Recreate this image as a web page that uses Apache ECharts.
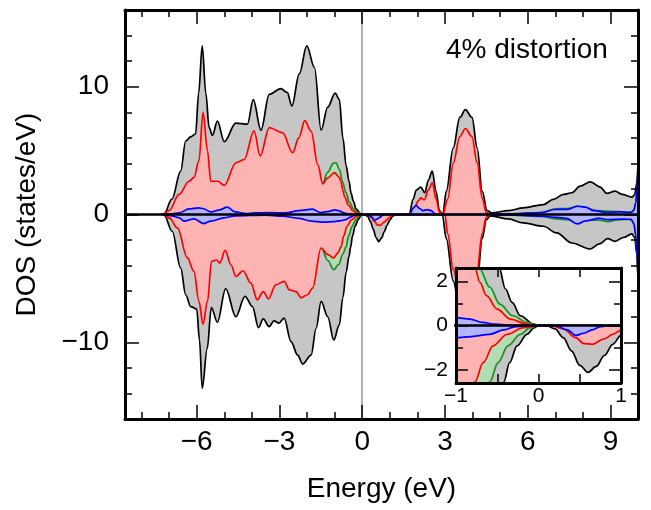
<!DOCTYPE html>
<html><head><meta charset="utf-8">
<script src="https://cdn.jsdelivr.net/npm/echarts@6/dist/echarts.min.js"></script>
<style>html,body{margin:0;padding:0;background:#fff}#c{width:651px;height:510px}</style>
</head><body><div id="c"></div><script>
// ---- data: [energy (eV), DOS (states/eV)] ----
const totalUp = [[-7.3,0],[-7.18,0.05],[-6.9,1.2],[-6.58,3.4],[-6.4,5.75],[-6.22,6.07],[-6.04,6.3],[-5.93,9.5],[-5.8,13.2],[-5.67,9.5],[-5.55,6.8],[-5.43,6.2],[-5.25,7.3],[-5.0,5.7],[-4.58,7.15],[-4.16,7.07],[-3.95,8.98],[-3.67,6.6],[-3.37,9.4],[-2.95,9.85],[-2.72,9.55],[-2.55,8.5],[-2.28,11.0],[-2.01,13.2],[-1.73,11.5],[-1.49,6.6],[-1.25,8.4],[-0.98,9.5],[-0.83,9.0],[-0.7,6.0],[-0.58,3.8],[-0.48,2.64],[-0.4,1.65],[-0.32,1.05],[-0.22,0.44],[-0.06,0.06],[0,0],[1.7,0],[1.85,1.2],[1.96,1.9],[2.12,2.14],[2.27,1.7],[2.4,2.7],[2.54,3.4],[2.68,1.8],[2.8,0.3],[2.92,0],[3.05,1.83],[3.3,5.2],[3.54,7.6],[3.74,8.2],[3.98,7.6],[4.17,5.2],[4.35,1.83],[4.53,0.3],[4.7,0.13],[5.3,0.3],[5.84,0.52],[6.57,0.78],[6.93,1.18],[7.3,1.57],[7.6,1.7],[7.9,2.22],[8.27,2.56],[8.63,2.14],[8.87,1.65],[9.17,1.83],[9.42,1.57],[9.78,1.36],[9.88,1.55],[9.95,2.4],[10,3.9]];
const totalDn = [[-7.3,0],[-7.18,-0.05],[-6.89,-1.31],[-6.58,-4.19],[-6.4,-6.28],[-6.22,-7.2],[-6.0,-7.4],[-5.9,-9.8],[-5.8,-13.6],[-5.62,-10.5],[-5.47,-7.28],[-5.25,-8.43],[-4.95,-5.8],[-4.58,-8.0],[-4.25,-6.4],[-3.98,-7.2],[-3.76,-8.85],[-3.59,-8.17],[-3.37,-8.77],[-3.2,-8.33],[-3.02,-8.5],[-2.83,-8.1],[-2.58,-9.95],[-2.34,-11.0],[-2.16,-11.7],[-1.85,-11.0],[-1.67,-8.9],[-1.49,-6.8],[-1.25,-8.0],[-1.03,-9.82],[-0.83,-8.64],[-0.7,-6.5],[-0.58,-4.5],[-0.48,-3.3],[-0.42,-2.55],[-0.35,-1.68],[-0.26,-0.92],[-0.14,-0.4],[-0.05,-0.1],[0,0],[0.1,0],[0.2,-0.15],[0.3,-0.55],[0.4,-1.15],[0.5,-1.8],[0.6,-2.12],[0.7,-1.85],[0.8,-1.35],[0.9,-0.85],[1.0,-0.45],[1.1,-0.15],[1.2,0],[2.9,0],[3.05,-1.9],[3.3,-5.2],[3.54,-7.5],[3.74,-8.0],[3.98,-7.5],[4.17,-5.2],[4.35,-1.9],[4.5,-0.4],[4.65,-0.1],[5.3,-0.35],[5.84,-0.66],[6.57,-0.92],[7.05,-1.44],[7.6,-2.23],[8.27,-2.7],[8.6,-2.3],[8.9,-1.89],[9.17,-2.1],[9.47,-1.8],[9.78,-1.52],[9.88,-1.8],[9.95,-3.0],[10,-5.1]];
const redUp = [[-7.2,0],[-7.0,0.3],[-6.64,1.57],[-6.28,2.6],[-6.1,2.9],[-5.92,4.2],[-5.77,8.0],[-5.61,5.0],[-5.49,2.6],[-5.23,2.6],[-5.0,2.28],[-4.58,4.05],[-4.28,4.3],[-3.92,6.55],[-3.7,4.58],[-3.37,6.8],[-2.89,6.4],[-2.52,4.84],[-2.3,6.0],[-2.08,7.35],[-1.85,6.5],[-1.61,3.9],[-1.43,2.4],[-1.25,2.87],[-1.0,3.27],[-0.85,2.95],[-0.77,2.6],[-0.71,1.95],[-0.63,1.35],[-0.5,0.74],[-0.34,0.29],[-0.14,0.06],[0,0],[1.75,0],[1.9,0.6],[2.05,1.1],[2.12,1.3],[2.25,1.15],[2.4,1.9],[2.54,2.48],[2.68,1.2],[2.8,0.2],[2.92,0],[3.1,1.2],[3.3,4.0],[3.54,6.1],[3.74,6.73],[3.98,6.1],[4.17,4.0],[4.35,1.3],[4.5,0.15],[4.65,0],[10,0]];
const redDn = [[-7.2,0],[-7.0,-0.25],[-6.7,-1.05],[-6.34,-3.4],[-6.1,-4.45],[-5.92,-6.8],[-5.77,-8.6],[-5.61,-6.8],[-5.46,-3.67],[-5.29,-3.56],[-5.16,-3.8],[-4.97,-2.8],[-4.76,-3.93],[-4.58,-4.85],[-4.32,-4.4],[-4.04,-5.37],[-3.8,-6.68],[-3.59,-6.03],[-3.4,-6.6],[-3.13,-5.5],[-2.83,-5.24],[-2.64,-5.9],[-2.4,-6.03],[-2.22,-6.5],[-1.98,-6.28],[-1.8,-5.76],[-1.49,-2.62],[-1.25,-3.14],[-1.03,-3.4],[-0.88,-3.0],[-0.77,-2.55],[-0.67,-1.68],[-0.55,-0.92],[-0.38,-0.4],[-0.18,-0.1],[0,0],[0.15,0],[0.3,-0.15],[0.45,-0.55],[0.55,-0.82],[0.65,-0.85],[0.8,-0.6],[0.9,-0.4],[1.0,-0.22],[1.1,-0.05],[1.2,0],[3.0,0],[3.1,-1.5],[3.3,-4.3],[3.54,-6.3],[3.74,-6.8],[3.98,-6.3],[4.17,-4.3],[4.35,-1.5],[4.5,-0.2],[4.6,0],[10,0]];
const greenUp = [[-7.2,0],[-6.5,0.7],[-5.8,1.5],[-4.0,1.5],[-2.5,1.5],[-1.7,2.0],[-1.45,2.35],[-1.25,3.3],[-1.05,4.0],[-0.95,4.05],[-0.82,3.5],[-0.72,2.6],[-0.59,1.73],[-0.47,0.97],[-0.31,0.44],[-0.14,0.14],[0,0],[4.6,0],[5.5,0.05],[6.5,0.15],[7.0,0.45],[7.45,0.47],[7.8,0.6],[8.1,0.52],[8.5,0.3],[8.9,0.26],[9.3,0.22],[9.75,0.17],[9.85,0.35],[9.92,0.9],[9.97,2.0],[10,3.7]];
const greenDn = [[-7.2,0],[-6.5,-0.7],[-5.8,-1.5],[-4.0,-1.5],[-2.5,-1.5],[-1.7,-2.1],[-1.49,-2.55],[-1.25,-3.6],[-1.03,-4.32],[-0.85,-3.9],[-0.7,-3.1],[-0.59,-2.55],[-0.49,-1.68],[-0.37,-0.92],[-0.22,-0.4],[-0.1,-0.1],[0,0],[4.6,0],[5.5,-0.05],[6.5,-0.15],[7.05,-0.35],[7.4,-0.4],[7.8,-0.55],[8.1,-0.45],[8.6,-0.45],[8.9,-0.55],[9.3,-0.4],[9.75,-0.38],[9.85,-0.7],[9.92,-1.6],[9.97,-3.2],[10,-5.0]];
const blueUp = [[-7.2,0],[-6.9,0.05],[-6.64,0.13],[-6.28,0.44],[-5.93,0.52],[-5.75,0.45],[-5.49,0.2],[-5.2,0.35],[-4.89,0.57],[-4.6,0.2],[-4.2,0.08],[-3.9,0.12],[-3.37,0.15],[-2.8,0.12],[-2.3,0.3],[-1.8,0.42],[-1.5,0.15],[-1.2,0.25],[-1.0,0.36],[-0.83,0.29],[-0.68,0.14],[-0.53,0.06],[-0.3,0.01],[0,0],[1.72,0],[1.85,0.5],[1.96,0.7],[2.1,0.45],[2.2,0.3],[2.35,0.38],[2.5,0.3],[2.65,0.05],[2.75,0],[4.5,0],[5.5,0.05],[6.5,0.15],[7.0,0.39],[7.45,0.4],[7.8,0.65],[8.1,0.57],[8.4,0.3],[8.9,0.16],[9.3,0.2],[9.75,0.16],[9.85,0.35],[9.92,0.9],[9.97,2.0],[10,3.7]];
const blueDn = [[-7.2,0],[-6.9,-0.1],[-6.64,-0.26],[-6.46,-0.52],[-6.1,-0.34],[-5.74,-0.71],[-5.49,-0.52],[-5.0,-0.26],[-4.6,-0.1],[-3.5,-0.05],[-2.89,-0.13],[-2.3,-0.3],[-1.85,-0.52],[-1.4,-0.6],[-1.0,-0.55],[-0.81,-0.5],[-0.59,-0.4],[-0.42,-0.2],[-0.28,-0.05],[-0.15,0],[0.2,0],[0.35,-0.2],[0.45,-0.45],[0.55,-0.35],[0.65,-0.2],[0.75,-0.05],[0.85,0],[4.5,0],[5.5,-0.05],[6.5,-0.12],[7.05,-0.23],[7.4,-0.3],[7.8,-0.74],[8.1,-0.5],[8.6,-0.3],[8.9,-0.4],[9.47,-0.36],[9.75,-0.38],[9.85,-0.7],[9.92,-1.6],[9.97,-3.2],[10,-5.0]];
const zeroLine = [[-8.6,0],[10,0]];

// ---- ticks / labels ----
const xMinorTicks = [-8,-7,-6,-5,-4,-3,-2,-1,0,1,2,3,4,5,6,7,8,9,10];
const xMajorTicks = [-6,-3,0,3,6,9];
const yMinorTicks = [-16,-14,-12,-10,-8,-6,-4,-2,0,2,4,6,8,10,12,14,16];
const yMajorTicks = [-10,0,10];
const insetXTicks = [-0.5,0,0.5];
const insetXLabels = [-1,0,1];
const insetYMinorTicks = [-1,1];
const insetYMajorTicks = [-2,0,2];

const FONT = 'Liberation Sans';
const fmt = v => (v < 0 ? '\u2212' : '') + Math.abs(v);

function axis(o) {
  return Object.assign({
    type: 'value',
    splitLine: {show: false},
    axisLine: {show: false, onZero: false, lineStyle: {color: '#000', width: 3}},
    axisTick: {show: false},
    axisLabel: {show: false},
  }, o);
}
const frame = {show: true, onZero: false, lineStyle: {color: '#000', width: 3}};
function ticks(vals, len) {
  return {show: true, inside: true, length: len, customValues: vals, lineStyle: {color: '#000', width: 1.5}};
}
function labels(vals, size, margin) {
  return {show: true, customValues: vals, formatter: fmt, color: '#000', fontSize: size, fontFamily: FONT, margin: margin};
}

const mainX = {gridIndex: 0, min: -8.6, max: 10, z: 20};
const mainY = {gridIndex: 0, min: -16, max: 16, z: 20};
const inX = {gridIndex: 1, min: -1, max: 1, z: 40};
const inY = {gridIndex: 1, min: -2.6, max: 2.6, z: 40};

const xAxes = [
  axis(Object.assign({}, mainX, {position: 'bottom', axisLine: frame, axisTick: ticks(xMinorTicks, 7)})),
  axis(Object.assign({}, mainX, {position: 'bottom', axisTick: ticks(xMajorTicks, 14), axisLabel: labels(xMajorTicks, 28, 9),
    name: 'Energy (eV)', nameLocation: 'middle', nameGap: 56, nameTextStyle: {fontSize: 28, fontFamily: FONT, color: '#000'}})),
  axis(Object.assign({}, mainX, {position: 'top', axisLine: frame, axisTick: ticks(xMinorTicks, 7)})),
  axis(Object.assign({}, mainX, {position: 'top', axisTick: ticks(xMajorTicks, 14)})),
  axis(Object.assign({}, inX, {position: 'bottom', axisLine: frame, axisTick: ticks(insetXTicks, 9), axisLabel: labels(insetXLabels, 21, 3)})),
  axis(Object.assign({}, inX, {position: 'top', axisLine: frame, axisTick: ticks(insetXTicks, 9)})),
];
const yAxes = [
  axis(Object.assign({}, mainY, {position: 'left', axisLine: frame, axisTick: ticks(yMinorTicks, 7)})),
  axis(Object.assign({}, mainY, {position: 'left', axisTick: ticks(yMajorTicks, 14), axisLabel: labels(yMajorTicks, 28, 16),
    name: 'DOS (states/eV)', nameLocation: 'middle', nameGap: 84, nameRotate: 90, nameTextStyle: {fontSize: 28, fontFamily: FONT, color: '#000'}})),
  axis(Object.assign({}, mainY, {position: 'right', axisLine: frame, axisTick: ticks(yMinorTicks, 7)})),
  axis(Object.assign({}, mainY, {position: 'right', axisTick: ticks(yMajorTicks, 14)})),
  axis(Object.assign({}, inY, {position: 'left', axisLine: frame, axisTick: ticks(insetYMinorTicks, 7), axisLabel: labels(insetYMajorTicks, 21, 8)})),
  axis(Object.assign({}, inY, {position: 'left', axisTick: ticks(insetYMajorTicks, 12)})),
  axis(Object.assign({}, inY, {position: 'right', axisLine: frame, axisTick: ticks(insetYMinorTicks, 7)})),
  axis(Object.assign({}, inY, {position: 'right', axisTick: ticks(insetYMajorTicks, 12)})),
];

const palette = [
  {up: totalUp, dn: totalDn, line: '#000000', fill: '#c6c6c6'},
  {up: greenUp, dn: greenDn, line: '#1c8c1c', fill: '#b4dcb4'},
  {up: redUp, dn: redDn, line: '#ff0000', fill: '#ffb4b4'},
  {up: blueUp, dn: blueDn, line: '#0000ff', fill: '#b4b4ff'},
];

function mk(data, p, xi, yi, z) {
  return {type: 'line', data: data, xAxisIndex: xi, yAxisIndex: yi, smooth: 0.35, smoothMonotone: 'x',
    showSymbol: false, symbol: 'none', silent: true, animation: false, z: z,
    lineStyle: {color: p.line, width: 1.7}, areaStyle: {color: p.fill, opacity: 1}};
}
function zero(xi, yi, z, vColor, vWidth) {
  return {type: 'line', data: zeroLine, xAxisIndex: xi, yAxisIndex: yi, showSymbol: false, symbol: 'none',
    silent: true, animation: false, z: z, lineStyle: {color: '#000', width: 2.5},
    markLine: {silent: true, symbol: 'none', animation: false, label: {show: false},
      data: [{xAxis: 0, lineStyle: {color: vColor, width: vWidth, type: 'solid'}}]}};
}
const series = [];
palette.forEach((p, i) => { series.push(mk(p.up, p, 0, 0, 2 + i * 2)); series.push(mk(p.dn, p, 0, 0, 3 + i * 2)); });
series.push(zero(0, 0, 15, '#999', 1.5));
palette.forEach((p, i) => { series.push(mk(p.up, p, 4, 4, 30 + i * 2)); series.push(mk(p.dn, p, 4, 4, 31 + i * 2)); });
series.push(zero(4, 4, 39, '#000', 1));

const chart = echarts.init(document.getElementById('c'), null, {renderer: 'canvas'});
chart.setOption({
  animation: false,
  backgroundColor: '#fff',
  grid: [
    {left: 125, right: 13, top: 10, bottom: 91, containLabel: false},
    {left: 456, top: 268, width: 165, height: 115, containLabel: false},
  ],
  xAxis: xAxes,
  yAxis: yAxes,
  graphic: [
    {type: 'rect', z: 25, silent: true, shape: {x: 456, y: 268, width: 165, height: 115}, style: {fill: '#fff'}},
    {type: 'text', z: 50, silent: true, x: 446, y: 50, style: {text: '4% distortion', fontSize: 28, fontFamily: FONT, fill: '#000', align: 'left', verticalAlign: 'middle'}},
  ],
  series: series,
});
</script></body></html>
